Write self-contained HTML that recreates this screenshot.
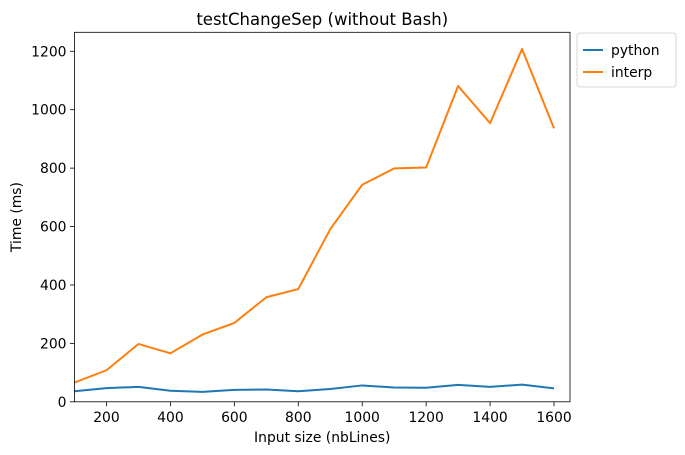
<!DOCTYPE html>
<html><head><meta charset="utf-8"><style>
body{margin:0;background:#fff;}
svg{display:block;font-family:"DejaVu Sans","Liberation Sans",sans-serif;}
</style></head><body>
<svg id="chart" width="685" height="455"></svg>
<script>
const categories=[100,200,300,400,500,600,700,800,900,1000,1100,1200,1300,1400,1500,1600];
const pythonValues=[36,47,51,38,34,41,42,36,44,56,49,48,58,51,59,46];
const interpValues=[66,108,198,166,230,270,358,386,591,743,799,802,1081,954,1208,936];
const xTicks=[200,400,600,800,1000,1200,1400,1600];
const yTicks=[0,200,400,600,800,1000,1200];
const seriesNames=["python","interp"];

const NS="http://www.w3.org/2000/svg";
const svg=document.getElementById('chart');
const L=74.5,R=570,T=32.3,B=401.8,XMIN=100,XMAX=1650,YMIN=0,YMAX=1265;
function sx(v){return L+(v-XMIN)/(XMAX-XMIN)*(R-L);}
function sy(v){return B-(v-YMIN)/(YMAX-YMIN)*(B-T);}
function mk(tag,attrs,text){const e=document.createElementNS(NS,tag);for(const k in attrs)e.setAttribute(k,attrs[k]);if(text!==undefined)e.textContent=text;svg.appendChild(e);return e;}

let e;
e=mk('text',{x:(L+R)/2,y:25,'text-anchor':'middle','font-size':16.5,fill:'#000'},'testChangeSep (without Bash)');



xTicks.forEach(t=>{
  e=mk('line',{x1:sx(t),x2:sx(t),y1:B,y2:B+4.5,stroke:'#000','stroke-width':0.8});
  
  
  e=mk('text',{x:sx(t),y:B+20,'text-anchor':'middle','font-size':13.9,fill:'#000'},String(t));
  
  
});
yTicks.forEach(t=>{
  e=mk('line',{x1:L-4.5,x2:L,y1:sy(t),y2:sy(t),stroke:'#000','stroke-width':0.8});
  
  
  e=mk('text',{x:L-8,y:sy(t)+5,'text-anchor':'end','font-size':13.9,fill:'#000'},String(t));
  
  
});
e=mk('text',{x:(L+R)/2,y:442,'text-anchor':'middle','font-size':13.9,fill:'#000'},'Input size (nbLines)');


e=mk('text',{x:21,y:(T+B)/2,'text-anchor':'middle','font-size':13.9,fill:'#000',transform:'rotate(-90 21 '+((T+B)/2)+')'},'Time (ms)');



const colors=['#1f77b4','#ff7f0e'];
[pythonValues,interpValues].forEach((vals,i)=>{
  const d=vals.map((v,j)=>(j?'L':'M')+sx(categories[j]).toFixed(2)+' '+sy(v).toFixed(2)).join(' ');
  e=mk('path',{d:d,fill:'none',stroke:colors[i],'stroke-width':2,'stroke-linejoin':'round'});
  
  
});

e=mk('rect',{x:L,y:T,width:R-L,height:B-T,fill:'none',stroke:'#000','stroke-width':0.8});



e=mk('rect',{x:577,y:33,width:99,height:54,rx:3,fill:'#fff',stroke:'#ccc','stroke-width':0.8});


seriesNames.forEach((n,i)=>{
  const y=50+i*22;
  e=mk('line',{x1:583,x2:603,y1:y,y2:y,stroke:colors[i],'stroke-width':2});
  
  
  e=mk('text',{x:611,y:y+5,'font-size':13.9,fill:'#000'},n);
  
  
});
</script>
</body></html>
